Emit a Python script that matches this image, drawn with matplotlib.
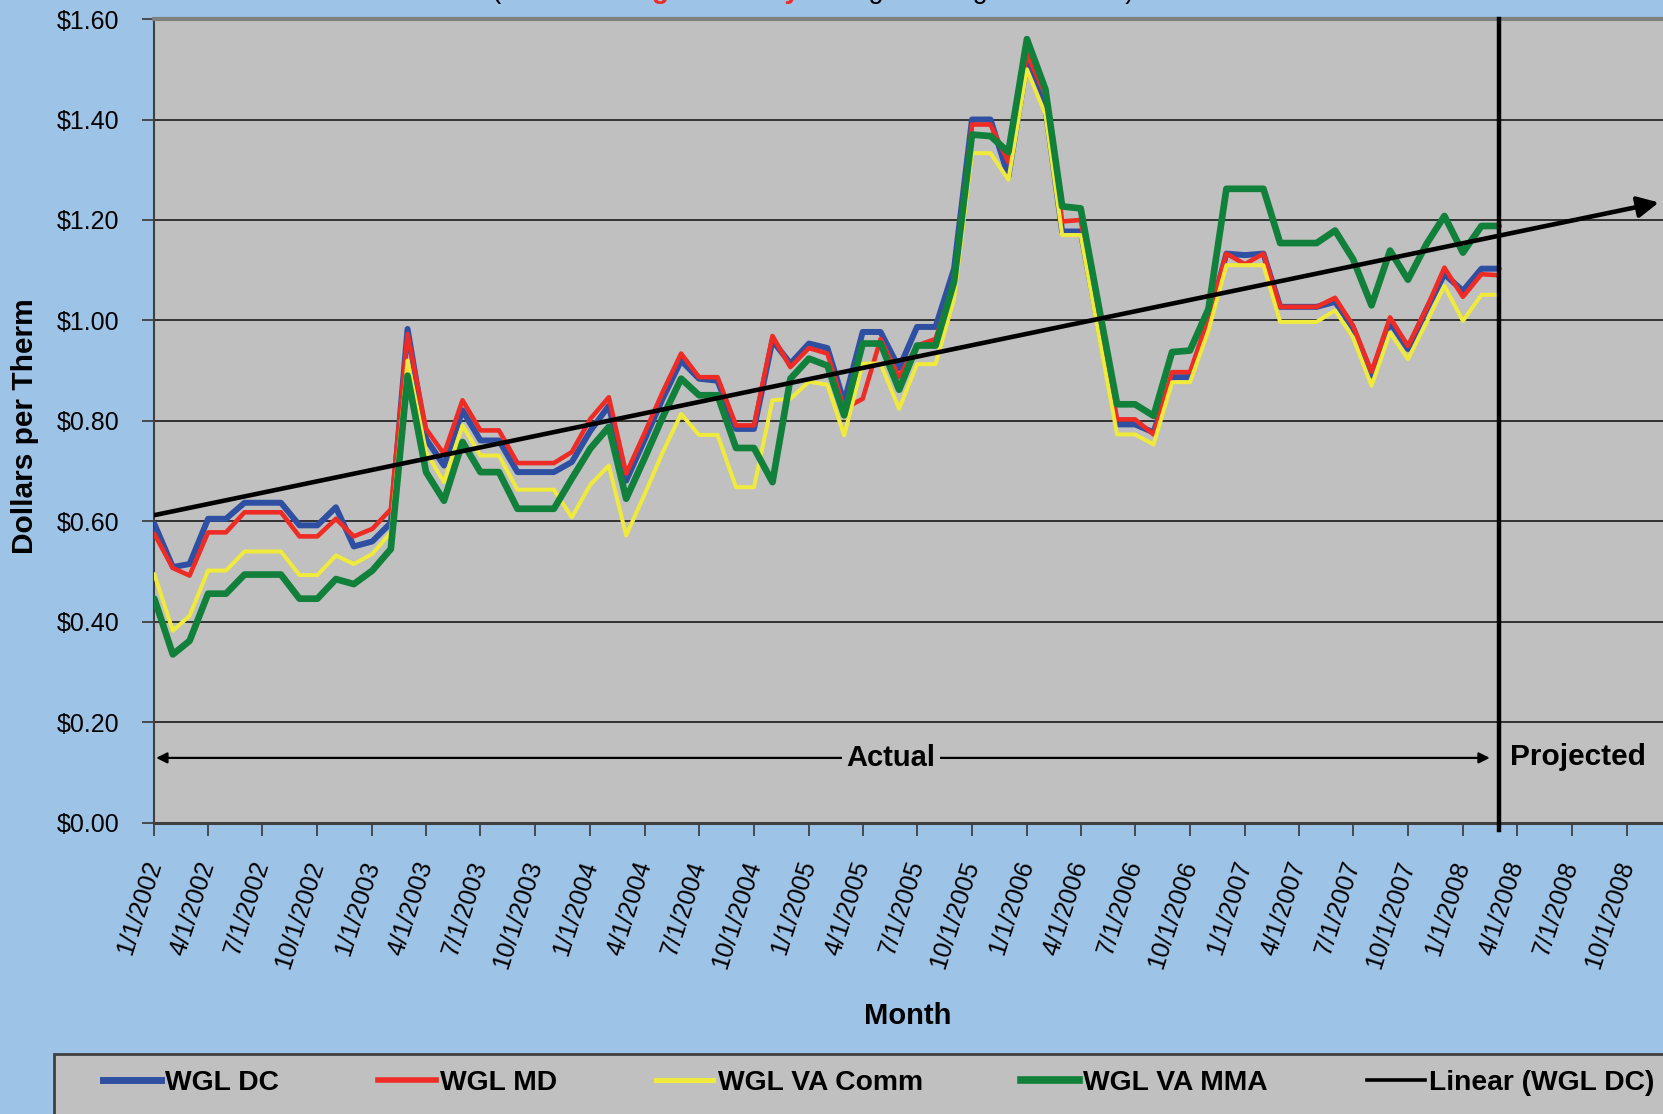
import matplotlib
matplotlib.use('Agg')
import matplotlib.pyplot as plt
import matplotlib.dates as mdates
import matplotlib.ticker as ticker
from matplotlib.lines import Line2D
from matplotlib.patches import Rectangle
import numpy as np
import pandas as pd
import datetime as dt

plt.rcParams['font.family'] = ['Liberation Sans', 'DejaVu Sans']

# monthly prices, $/therm, Jan 2002 - Mar 2008
wgl_dc = [0.595, 0.509, 0.515, 0.605, 0.605, 0.637, 0.637, 0.637, 0.592, 0.592, 0.628, 0.550,
          0.560, 0.597, 0.983, 0.764, 0.711, 0.821, 0.761, 0.761, 0.698, 0.698, 0.698, 0.718,
          0.780, 0.830, 0.681, 0.763, 0.844, 0.920, 0.884, 0.880, 0.784, 0.784, 0.960, 0.914,
          0.954, 0.945, 0.837, 0.977, 0.977, 0.905, 0.987, 0.987, 1.103, 1.400, 1.400, 1.287,
          1.513, 1.423, 1.177, 1.177, 0.987, 0.793, 0.793, 0.777, 0.887, 0.887, 1.000, 1.133,
          1.130, 1.133, 1.027, 1.027, 1.027, 1.037, 0.985, 0.890, 0.996, 0.943, 1.022, 1.092,
          1.059, 1.103, 1.103]
wgl_md = [0.575, 0.507, 0.492, 0.578, 0.578, 0.618, 0.618, 0.618, 0.570, 0.570, 0.605, 0.570,
          0.585, 0.624, 0.973, 0.784, 0.734, 0.841, 0.781, 0.781, 0.716, 0.716, 0.716, 0.738,
          0.804, 0.847, 0.695, 0.776, 0.857, 0.934, 0.887, 0.887, 0.791, 0.791, 0.969, 0.907,
          0.945, 0.934, 0.824, 0.844, 0.963, 0.887, 0.950, 0.963, 1.077, 1.390, 1.390, 1.315,
          1.530, 1.450, 1.197, 1.200, 1.003, 0.803, 0.803, 0.773, 0.897, 0.897, 1.005, 1.133,
          1.112, 1.133, 1.027, 1.027, 1.027, 1.045, 0.990, 0.898, 1.006, 0.949, 1.024, 1.105,
          1.047, 1.092, 1.090]
wgl_va_comm = [0.495, 0.382, 0.412, 0.502, 0.502, 0.540, 0.540, 0.540, 0.493, 0.493, 0.532, 0.515,
               0.535, 0.578, 0.920, 0.738, 0.678, 0.791, 0.731, 0.731, 0.663, 0.663, 0.663, 0.608,
               0.673, 0.711, 0.572, 0.654, 0.737, 0.814, 0.772, 0.772, 0.668, 0.668, 0.841, 0.844,
               0.878, 0.872, 0.771, 0.914, 0.914, 0.824, 0.913, 0.913, 1.043, 1.333, 1.333, 1.280,
               1.500, 1.410, 1.170, 1.170, 0.973, 0.773, 0.773, 0.753, 0.877, 0.877, 0.980, 1.110,
               1.110, 1.110, 0.997, 0.997, 0.997, 1.020, 0.966, 0.870, 0.976, 0.923, 0.996, 1.069,
               0.999, 1.051, 1.051]
wgl_va_mma = [0.446, 0.335, 0.362, 0.456, 0.456, 0.494, 0.494, 0.494, 0.446, 0.446, 0.485, 0.475,
              0.502, 0.545, 0.890, 0.698, 0.641, 0.758, 0.698, 0.698, 0.625, 0.625, 0.625, 0.685,
              0.745, 0.788, 0.645, 0.726, 0.807, 0.884, 0.851, 0.851, 0.746, 0.746, 0.678, 0.884,
              0.924, 0.910, 0.811, 0.954, 0.954, 0.862, 0.950, 0.950, 1.077, 1.370, 1.367, 1.335,
              1.560, 1.460, 1.227, 1.223, 1.030, 0.833, 0.833, 0.810, 0.937, 0.940, 1.023, 1.262,
              1.262, 1.262, 1.154, 1.154, 1.154, 1.179, 1.122, 1.030, 1.139, 1.081, 1.152, 1.208,
              1.135, 1.188, 1.188]

months = pd.date_range('2002-01-01', periods=len(wgl_dc), freq='MS')
series_names = ['WGL DC', 'WGL MD', 'WGL VA Comm', 'WGL VA MMA']
series_colors = ['#2F4FA2', '#EE2B25', '#F0EA3C', '#11803A']
series_widths = [4.3, 3.3, 2.9, 4.8]

fig = plt.figure(figsize=(16.63, 11.14), dpi=100, facecolor='#9DC3E6')
ax = fig.add_axes([0.0928, 0.2615, 1 - 0.0928, 0.9829 - 0.2615])
ax.set_facecolor('#C0C0C0')

for vals, c, w in zip([wgl_dc, wgl_md, wgl_va_comm, wgl_va_mma], series_colors, series_widths):
    ax.plot(months, vals, color=c, lw=w, solid_joinstyle='round', solid_capstyle='round', zorder=3)

# linear trend of WGL DC, projected forward
xnum = mdates.date2num(months)
coef = np.polyfit(xnum, wgl_dc, 1)
t0 = mdates.date2num(dt.datetime(2002, 1, 1))
t1 = mdates.date2num(dt.datetime(2008, 11, 24))
ax.plot([t0, t1 - 20], np.polyval(coef, [t0, t1 - 20]), color='black', lw=3.3, zorder=4)
ax.annotate('', xy=(t1, np.polyval(coef, t1)), xytext=(t1 - 25, np.polyval(coef, t1 - 25)),
            arrowprops=dict(arrowstyle='-|>', color='black', lw=3, mutation_scale=32,
                            shrinkA=0, shrinkB=0), zorder=4)

# actual / projected split
split = dt.datetime(2008, 3, 1)
ax.axvline(split, ymin=-0.009, ymax=1, color='black', lw=3.2, clip_on=False, zorder=5)
ax.annotate('', xy=(dt.datetime(2002, 1, 4), 0.129), xytext=(dt.datetime(2008, 2, 15), 0.129),
            arrowprops=dict(arrowstyle='<|-|>', color='black', lw=1.6, mutation_scale=16,
                            shrinkA=0, shrinkB=0), zorder=4)
ax.text(dt.datetime(2005, 5, 18), 0.129, 'Actual', ha='center', va='center', fontsize=21,
        fontweight='bold', zorder=5,
        bbox=dict(boxstyle='square,pad=0.15', fc='#C0C0C0', ec='none'))
ax.text(dt.datetime(2008, 7, 12), 0.131, 'Projected', ha='center', va='center', fontsize=21.5,
        fontweight='bold', zorder=5)

ax.set_xlim(dt.datetime(2002, 1, 1), dt.datetime(2008, 12, 1))
ax.set_ylim(0, 1.6)
ax.set_yticks(np.arange(0, 1.61, 0.2))
ax.yaxis.set_major_formatter(ticker.FuncFormatter(lambda v, p: '${:.2f}'.format(v)))
ax.xaxis.set_major_locator(mdates.MonthLocator(bymonth=[1, 4, 7, 10]))
ax.xaxis.set_major_formatter(ticker.FuncFormatter(
    lambda v, p: '{d.month}/{d.day}/{d.year}'.format(d=mdates.num2date(v))))
ax.tick_params(axis='both', direction='out', length=9, width=1.3, color='#404040',
               labelsize=18, pad=16)
ax.tick_params(axis='x', pad=19)
for lab in ax.get_xticklabels():
    lab.set_rotation(72)
    lab.set_ha('right')
    lab.set_va('center')
    lab.set_rotation_mode('anchor')

ax.yaxis.grid(True, color='#1a1a1a', lw=1.2)
ax.set_axisbelow(True)
ax.spines['right'].set_visible(False)
ax.spines['top'].set_color('#808080')
ax.spines['top'].set_linewidth(3)
ax.spines['left'].set_color('#404040')
ax.spines['left'].set_linewidth(1.5)
ax.spines['bottom'].set_color('#404040')
ax.spines['bottom'].set_linewidth(2.2)

fig.text(25.5 / 1663, 1 - 426 / 1114, 'Dollars per Therm', rotation=90, ha='center',
         va='center', fontsize=21.5, fontweight='bold')
fig.text(908 / 1663, 1 - 1016 / 1114, 'Month', ha='center', va='center', fontsize=21,
         fontweight='bold')

# subtitle, cropped at the top edge as in the original
top_y = 1 + 1.5 / 1114
fig.text(491 / 1663, top_y, '(', ha='left', va='baseline', fontsize=20)
fig.text(504 / 1663, top_y, 'Rates change monthly', ha='left', va='baseline',
         fontsize=20, fontweight='bold', color='#EE2B25')
fig.text(790 / 1663, top_y, '\u2013 with gas charges included)', ha='left', va='baseline',
         fontsize=19.5)

# legend strip
fig.add_artist(Rectangle((54 / 1663, -0.01), 1, (1114 - 1054) / 1114 + 0.01,
                         transform=fig.transFigure, fc='#C0C0C0', ec='#404040', lw=2,
                         zorder=0))
handles = [Line2D([], [], color=c, lw=w + 0.7) for c, w in zip(series_colors, series_widths)]
handles.append(Line2D([], [], color='black', lw=2.6))
labels = series_names + ['Linear (WGL DC)']
fig.legend(handles, labels, loc='center left', bbox_to_anchor=(103 / 1663, 1 - 1083 / 1114),
           ncol=5, frameon=False, prop={'size': 20.3, 'weight': 'bold'}, handlelength=2.05,
           handletextpad=0.15, columnspacing=3.5, borderpad=0, borderaxespad=0)

fig.savefig('out.png', dpi=100, facecolor=fig.get_facecolor())
